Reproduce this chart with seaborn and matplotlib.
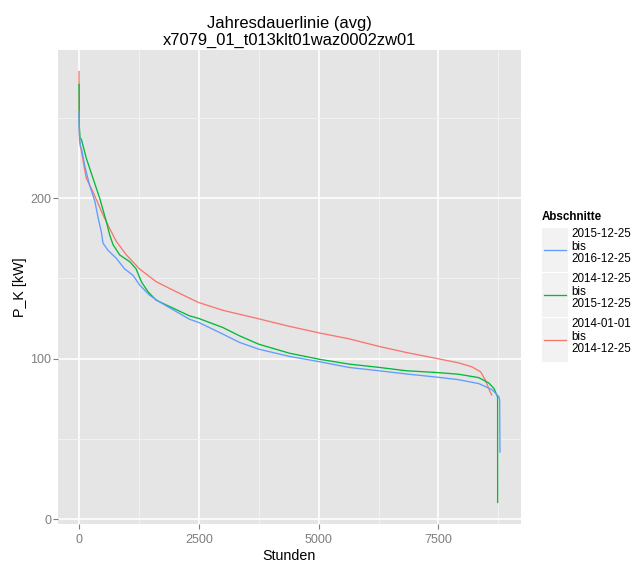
import numpy as np
import pandas as pd
import matplotlib
matplotlib.use("Agg")
import matplotlib.pyplot as plt
import seaborn as sns
from matplotlib.patches import Rectangle

# ---------------- data ----------------
periods = ["2015-12-25\nbis\n2016-12-25",
           "2014-12-25\nbis\n2015-12-25",
           "2014-01-01\nbis\n2014-12-25"]
colors = ["#619CFF", "#00BA38", "#F8766D"]

hours_blue = [0, 5, 30, 50, 120, 220, 330, 400, 465, 500, 600, 780, 950, 1125, 1265,
              1470, 1680, 2300, 2500, 3000, 3350, 3750, 4390, 5000, 5640, 6250, 6820,
              7500, 7920, 8340, 8620, 8764, 8778, 8784]
kw_blue = [254, 240, 232, 231, 220, 208, 198, 187.5, 179, 172, 167.7, 162.5, 156, 152, 146,
           139.6, 135.4, 124.7, 122.6, 115.4, 110.2, 106, 101.5, 98.3, 94.6, 92.6, 90.6,
           88.5, 87, 84.6, 80.8, 76.3, 74.5, 42]

hours_green = [0, 5, 20, 50, 150, 290, 430, 570, 640, 710, 850, 1060, 1190, 1300, 1440,
               1610, 2300, 2500, 3000, 3350, 3750, 4390, 5000, 5640, 6250, 6820, 7500,
               7920, 8340, 8550, 8660, 8725, 8735, 8736]
kw_green = [270.8, 245, 237.5, 236.5, 225, 212.5, 200, 185.4, 177, 171, 164.6, 160.4, 156,
            148, 141.7, 136.5, 126.8, 125.1, 119.5, 114.3, 109.1, 103.5, 99.8, 96.7, 94.7,
            92.6, 91.4, 90.4, 88.3, 85, 81.5, 77, 76, 10.6]

hours_red = [0, 3, 10, 50, 150, 290, 500, 640, 780, 990, 1260, 1610, 1890, 2300, 2500,
             3000, 3750, 4390, 5000, 5640, 6250, 6820, 7500, 7920, 8200, 8380, 8480,
             8550, 8610]
kw_red = [278.8, 250, 236, 229, 212.5, 204, 189.6, 181, 173, 164.6, 156, 148, 143.8,
          137.8, 135, 130.2, 124.9, 120.2, 116.2, 112.4, 107.8, 104.0, 100, 97.5, 95, 91.9,
          86.7, 81.5, 77.5]

title = "Jahresdauerlinie (avg)\nx7079_01_t013klt01waz0002zw01"
x_label = "Stunden"
y_label = "P_K [kW]"
legend_title = "Abschnitte"
x_ticks = [0, 2500, 5000, 7500]
x_minor = [1250, 3750, 6250, 8750]
y_ticks = [0, 100, 200]
y_minor = [50, 150, 250]

df = pd.concat([
    pd.DataFrame({"Stunden": hours_red, "P_K": kw_red, "Abschnitte": periods[2]}),
    pd.DataFrame({"Stunden": hours_green, "P_K": kw_green, "Abschnitte": periods[1]}),
    pd.DataFrame({"Stunden": hours_blue, "P_K": kw_blue, "Abschnitte": periods[0]}),
], ignore_index=True)

# ---------------- style ----------------
plt.rcParams["font.family"] = ["Liberation Sans", "DejaVu Sans"]
W, H = 640, 563
fig = plt.figure(figsize=(W / 100, H / 100), dpi=100)
pl, pr, pt, pb = 58, 521, 50, 524
ax = fig.add_axes([pl / W, 1 - pb / H, (pr - pl) / W, (pb - pt) / H])
ax.set_facecolor("#E5E5E5")

sns.lineplot(data=df, x="Stunden", y="P_K", hue="Abschnitte",
             hue_order=periods[::-1], palette=colors[::-1],
             estimator=None, sort=False, lw=0.95, ax=ax, legend=False, zorder=3)

# ggplot-like expansion (5%)
xmin, xmax = df["Stunden"].min(), df["Stunden"].max()
ymin, ymax = df["P_K"].min(), df["P_K"].max()
dx, dy = 0.05 * (xmax - xmin), 0.05 * (ymax - ymin)
ax.set_xlim(xmin - dx, xmax + dx)
ax.set_ylim(ymin - dy, ymax + dy)

ax.set_xticks(x_ticks)
ax.set_xticks(x_minor, minor=True)
ax.set_yticks(y_ticks)
ax.set_yticks(y_minor, minor=True)
ax.grid(which="major", color="white", lw=1.2, zorder=1)
ax.grid(which="minor", color="#F2F2F2", lw=0.7, zorder=0.9)
ax.set_axisbelow(True)
for s in ax.spines.values():
    s.set_visible(False)
ax.tick_params(which="major", length=3.6, width=0.8, color="#7F7F7F",
               labelcolor="#7F7F7F", labelsize=9.0)
ax.tick_params(axis="x", pad=3.6)
ax.tick_params(axis="y", pad=1.4)
ax.tick_params(which="minor", length=0)

ax.set_xlabel(x_label, fontsize=10.3, labelpad=2.4, color="black")
ax.set_ylabel(y_label, fontsize=10.3, labelpad=2.0, color="black")
ax.set_title(title, fontsize=11.9, linespacing=1.1, pad=4.0)

# ---------------- legend (ggplot-style keys) ----------------
lax = fig.add_axes([0, 0, 1, 1], zorder=5)
lax.set_xlim(0, W)
lax.set_ylim(H, 0)
lax.axis("off")
lax.text(541.7, 216.7, legend_title, fontsize=8.4, fontweight="bold",
         ha="left", va="center")
key_x, key_w, key_h, key_top, key_step = 541.7, 26.6, 44.0, 228.3, 45.0
for i, (lab, c) in enumerate(zip(periods, colors)):
    top = key_top + i * key_step
    lax.add_patch(Rectangle((key_x, top), key_w, key_h, facecolor="#F2F2F2",
                            edgecolor="none"))
    cy = top + key_h / 2
    lax.plot([key_x + 2.0, key_x + key_w - 2.0], [cy, cy], color=c, lw=0.95)
    lax.text(key_x + key_w + 3.4, cy - 3.5, lab, fontsize=8.4, ha="left",
             va="center", linespacing=1.05)

fig.savefig("out.png", dpi=100)
